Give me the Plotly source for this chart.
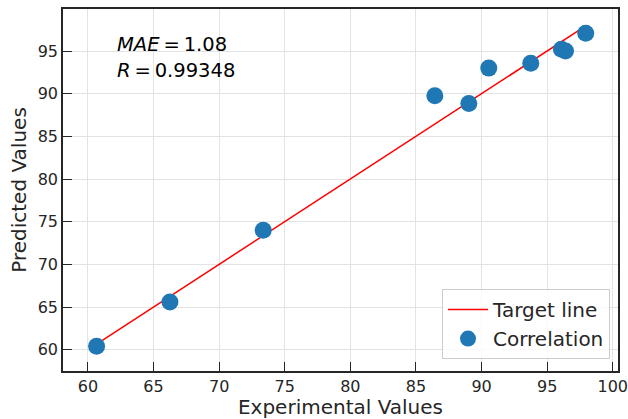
import plotly.graph_objects as go

experimental = [60.66, 66.25, 73.36, 86.44, 89.03, 90.55, 93.75, 96.09, 96.40, 97.94]
predicted = [60.39, 65.59, 74.00, 89.75, 88.86, 93.00, 93.56, 95.20, 95.00, 97.08]
mae_text = "<i>MAE</i>\u2009=\u20091.08"
r_text = "<i>R</i>\u2009=\u20090.99348"
x_ticks = [60, 65, 70, 75, 80, 85, 90, 95, 100]
y_ticks = [60, 65, 70, 75, 80, 85, 90, 95]

lo, hi = min(experimental), max(experimental)

fig = go.Figure()
fig.add_trace(go.Scatter(x=[lo, hi], y=[lo, hi], mode="lines", name="Target line",
                         line=dict(color="#ff0000", width=1.5)))
fig.add_trace(go.Scatter(x=experimental, y=predicted, mode="markers", name="Correlation",
                         marker=dict(color="#1f77b4", size=17, line=dict(width=0))))

font = "DejaVu Sans"
axis_common = dict(showline=True, linecolor="#262626", linewidth=1.5, mirror=True,
                   ticks="inside", ticklen=9, tickwidth=1.3, tickcolor="#262626",
                   showgrid=True, gridcolor="#e3e3e3", gridwidth=1, zeroline=False,
                   automargin=False, ticklabeloverflow="allow",
                   tickfont=dict(family=font, size=16, color="#262626"))
fig.update_xaxes(range=[58.1, 100.4], tickvals=x_ticks,
                 title=dict(text="Experimental Values", font=dict(family=font, size=20, color="#262626"), standoff=4),
                 **axis_common)
fig.update_yaxes(range=[57.5, 99.93], tickvals=y_ticks,
                 title=dict(text="Predicted Values", font=dict(family=font, size=20, color="#262626"), standoff=6),
                 **axis_common)

fig.add_annotation(xref="paper", yref="paper", x=0.093, y=0.903, xanchor="left", yanchor="middle",
                   text=mae_text, showarrow=False, font=dict(family=font, size=19.5, color="#000000"))
fig.add_annotation(xref="paper", yref="paper", x=0.093, y=0.829, xanchor="left", yanchor="middle",
                   text=r_text, showarrow=False, font=dict(family=font, size=19.5, color="#000000"))

fig.update_layout(
    width=628, height=419,
    margin=dict(l=63, r=10, t=9, b=48),
    plot_bgcolor="white", paper_bgcolor="white",
    font=dict(family=font, color="#262626"),
    showlegend=True,
    legend=dict(x=0.9856, y=0.033, xanchor="right", yanchor="bottom",
                bgcolor="rgba(255,255,255,0.8)", bordercolor="#cccccc", borderwidth=1,
                font=dict(family=font, size=20, color="#262626"), itemwidth=40),
)

fig.write_html("out.html")
